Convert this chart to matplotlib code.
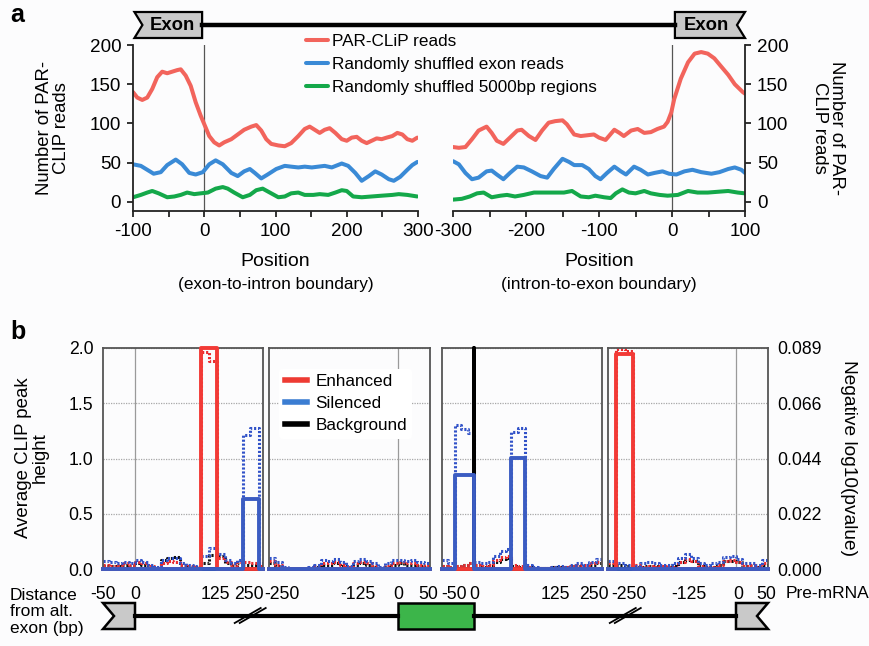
import matplotlib

matplotlib.use("Agg")
import matplotlib.pyplot as plt
from matplotlib.lines import Line2D
from matplotlib.patches import Polygon, Rectangle

plt.rcParams["font.family"] = ["Liberation Sans", "DejaVu Sans"]
plt.rcParams["axes.unicode_minus"] = False

W, H = 869, 646

# ---------------- panel a: PAR-CLIP read profiles ----------------
# exon-to-intron boundary (left)
ei_red_x = [-100, -94, -87, -80, -73, -66, -59, -52, -45, -38, -33, -26, -19, -12, -5, 1, 7, 14, 21, 28,
            38, 47, 56, 66, 73, 80, 87, 94, 104, 113, 122, 132, 141, 148, 155, 162, 169, 176, 184, 193,
            200, 207, 214, 221, 228, 235, 242, 249, 256, 264, 271, 278, 285, 292, 299]
ei_red = [140, 133, 130, 133, 144, 159, 166, 164, 166, 168, 169, 161, 148, 127, 110, 97, 84, 76, 72, 76,
          80, 86, 92, 96, 98, 91, 80, 74, 72, 71, 75, 84, 93, 96, 92, 88, 92, 94, 88, 80,
          78, 82, 83, 78, 75, 78, 81, 80, 82, 84, 88, 86, 80, 78, 82]
ei_blue_x = [-100, -89, -80, -71, -61, -52, -40, -31, -21, -12, -2, 7, 16, 26, 38, 47, 56, 64, 71, 80,
             89, 101, 113, 122, 132, 141, 151, 160, 169, 179, 193, 202, 212, 221, 231, 240, 249, 259,
             266, 275, 285, 292, 299]
ei_blue = [48, 46, 41, 36, 38, 47, 54, 48, 37, 35, 38, 48, 53, 48, 37, 33, 39, 42, 37, 30,
           35, 42, 46, 45, 44, 45, 44, 45, 46, 44, 49, 46, 37, 27, 33, 39, 35, 29, 27, 32, 41, 47, 51]
ei_green_x = [-100, -89, -80, -73, -64, -52, -42, -33, -24, -14, -5, 5, 16, 26, 33, 42, 54, 64, 73, 82,
              92, 104, 113, 122, 132, 141, 153, 162, 174, 184, 193, 200, 209, 221, 235, 249, 264, 273,
              285, 299]
ei_green = [6, 9, 12, 14, 11, 6, 7, 9, 12, 10, 11, 12, 17, 19, 17, 12, 6, 9, 15, 17,
            12, 6, 7, 11, 12, 9, 9, 10, 9, 12, 15, 14, 7, 6, 7, 8, 9, 10, 9, 7]

# intron-to-exon boundary (right)
ie_red_x = [-300, -292, -283, -274, -265, -254, -247, -240, -231, -222, -212, -206, -196, -187, -178,
            -169, -160, -150, -144, -134, -125, -116, -107, -100, -91, -79, -72, -66, -56, -47, -38,
            -29, -20, -11, -6, -1, 3, 12, 22, 31, 40, 49, 58, 67, 77, 86, 97, 100]
ie_red = [70, 69, 70, 80, 91, 96, 88, 78, 74, 82, 91, 92, 84, 79, 91, 101, 103, 104, 99, 86,
          84, 85, 86, 82, 79, 92, 88, 84, 91, 93, 88, 89, 93, 96, 102, 114, 131, 157, 178, 189,
          191, 189, 183, 173, 162, 150, 140, 138]
ie_blue_x = [-300, -292, -283, -274, -265, -254, -247, -240, -231, -222, -212, -203, -192, -180, -171,
             -162, -150, -141, -134, -123, -114, -105, -98, -89, -79, -70, -63, -52, -43, -33, -24,
             -13, -4, 6, 17, 28, 40, 54, 65, 77, 86, 95, 100]
ie_blue = [52, 48, 37, 29, 31, 39, 40, 35, 29, 37, 45, 44, 39, 33, 31, 42, 55, 51, 47, 47,
           42, 33, 29, 37, 45, 39, 35, 45, 41, 35, 37, 39, 36, 35, 39, 41, 38, 36, 38, 42, 44, 41, 37]
ie_green_x = [-300, -288, -277, -267, -258, -247, -235, -226, -215, -203, -189, -176, -162, -148, -137,
              -125, -114, -105, -93, -84, -77, -68, -59, -50, -38, -29, -17, -6, 8, 22, 35, 49, 63,
              77, 90, 100]
ie_green = [3, 4, 7, 11, 12, 6, 8, 9, 7, 9, 12, 12, 12, 12, 14, 7, 6, 8, 6, 5,
            11, 16, 12, 11, 14, 11, 9, 8, 9, 14, 12, 12, 13, 14, 12, 11]

a_labels = ["PAR-CLiP reads", "Randomly shuffled exon reads", "Randomly shuffled 5000bp regions"]
a_colors = ["#f2645c", "#3a8ad6", "#14a84a"]

# ---------------- panel b: CLIP peak height / p-value maps ----------------
b_labels = ["Enhanced", "Silenced", "Background"]

b1_x = [-50, -40, -30, -20, -10, 0, 10, 20, 30, 40, 50, 60, 70, 80, 90, 103, 115, 128, 140, 150, 160,
        169, 180, 194, 200]
b1_enh = [0.04, 0.03, 0.04, 0.05, 0.04, 0.06, 0.05, 0.03, 0.01, 0.05, 0.07, 0.06, 0.04, 0.03, 0.02,
          1.96, 1.88, 0.10, 0.06, 0.04, 0.06, 0.06, 0.05, 0.03, 0.03]
b1_sil = [0.07, 0.06, 0.05, 0.06, 0.05, 0.08, 0.06, 0.04, 0.02, 0.08, 0.10, 0.10, 0.05, 0.04, 0.03,
          0.12, 0.19, 0.14, 0.08, 0.05, 0.08, 1.21, 1.28, 0.05, 0.05]
b1_bg = [0.03, 0.03, 0.03, 0.04, 0.03, 0.05, 0.04, 0.03, 0.01, 0.08, 0.10, 0.11, 0.03, 0.02, 0.02,
         0.05, 0.13, 0.12, 0.05, 0.03, 0.05, 0.04, 0.04, 0.03, 0.03]
b1_p_x = [-50, 103, 128, 169, 194, 200]
b1_p_enh = [0, 0.0886, 0, 0, 0, 0]
b1_p_sil = [0, 0, 0, 0.0279, 0, 0]
b1_p_bg = [0, 0, 0, 0, 0, 0]

b2_x = [-200, -190, -180, -170, -160, -150, -140, -130, -120, -110, -100, -90, -80, -70, -60, -50,
        -40, -30, -20, -10, 0, 10, 20, 30, 40, 50]
b2_enh = [0.07, 0.04, 0.01, 0.0, 0.0, 0.0, 0.01, 0.03, 0.05, 0.05, 0.06, 0.04, 0.02, 0.05, 0.06, 0.05,
          0.03, 0.01, 0.03, 0.05, 0.06, 0.05, 0.05, 0.04, 0.03, 0.04]
b2_sil = [0.10, 0.06, 0.02, 0.0, 0.0, 0.0, 0.02, 0.04, 0.08, 0.07, 0.09, 0.06, 0.03, 0.07, 0.09, 0.07,
          0.05, 0.02, 0.05, 0.08, 0.08, 0.07, 0.08, 0.06, 0.05, 0.06]
b2_bg = [0.05, 0.03, 0.01, 0.0, 0.0, 0.0, 0.01, 0.02, 0.04, 0.04, 0.05, 0.03, 0.01, 0.04, 0.05, 0.04,
         0.02, 0.01, 0.02, 0.04, 0.05, 0.04, 0.04, 0.03, 0.02, 0.03]
b2_p_x = [-200, 50]
b2_p_enh = [0, 0]
b2_p_sil = [0, 0]
b2_p_bg = [0, 0]

b3_x = [-50, -40, -30, -20, -10, 0, 10, 20, 30, 40, 50, 58, 69, 80, 90, 100, 110, 120, 130, 140, 150,
        160, 170, 180, 190, 200]
b3_enh = [0.03, 0.02, 0.03, 0.04, 0.05, 0.04, 0.03, 0.04, 0.08, 0.11, 0.12, 0.04, 0.03, 0.02, 0.01,
          0.01, 0.01, 0.02, 0.02, 0.02, 0.03, 0.04, 0.04, 0.05, 0.06, 0.06]
b3_sil = [0.08, 0.05, 1.30, 1.27, 1.23, 0.06, 0.05, 0.06, 0.12, 0.16, 0.18, 1.24, 1.28, 0.04, 0.02,
          0.01, 0.01, 0.02, 0.03, 0.02, 0.04, 0.05, 0.04, 0.06, 0.09, 0.09]
b3_bg = [0.03, 0.02, 0.03, 0.04, 0.05, 0.04, 0.02, 0.03, 0.06, 0.09, 0.10, 0.03, 0.02, 0.02, 0.01,
         0.01, 0.01, 0.02, 0.02, 0.02, 0.03, 0.03, 0.03, 0.04, 0.05, 0.05]
b3_p_x = [-50, -30, 0, 0.6, 58, 80, 200]
b3_p_enh = [0, 0, 0, 0, 0, 0, 0]
b3_p_sil = [0, 0.0377, 0, 0, 0.0447, 0, 0]
b3_p_bg = [0, 0, 0.0886, 0, 0, 0, 0]

b4_x = [-200, -187, -174, -161, -150, -140, -130, -120, -110, -100, -90, -80, -70, -60, -50, -40,
        -30, -20, -10, 0, 10, 20, 30, 40, 50]
b4_enh = [0.05, 1.99, 1.97, 0.04, 0.02, 0.03, 0.02, 0.03, 0.02, 0.02, 0.06, 0.09, 0.07, 0.03, 0.02,
          0.02, 0.04, 0.07, 0.08, 0.06, 0.03, 0.04, 0.02, 0.05, 0.05]
b4_sil = [0.07, 0.05, 0.04, 0.03, 0.05, 0.06, 0.05, 0.04, 0.04, 0.05, 0.10, 0.14, 0.10, 0.05, 0.04,
          0.05, 0.06, 0.11, 0.12, 0.09, 0.05, 0.05, 0.04, 0.08, 0.08]
b4_bg = [0.04, 0.04, 0.03, 0.02, 0.02, 0.03, 0.03, 0.02, 0.02, 0.03, 0.06, 0.08, 0.07, 0.03, 0.02,
         0.02, 0.04, 0.07, 0.07, 0.06, 0.03, 0.03, 0.02, 0.04, 0.05]
b4_p_x = [-200, -187, -161, 50]
b4_p_enh = [0, 0.0860, 0, 0]
b4_p_sil = [0, 0, 0, 0]
b4_p_bg = [0, 0, 0, 0]

# tick label positions / texts under each panel
b_ticks = [[-50, 0, 125, 178], [-180, -62, 0, 47], [-31, 1, 127, 187], [-167, -73, 3, 47]]
b_ticklabels = [["-50", "0", "125", "250"], ["-250", "-125", "0", "50"],
                ["-50", "0", "125", "250"], ["-250", "-125", "0", "50"]]
b_xlims = [(-50, 200), (-200, 50), (-50, 200), (-200, 50)]
P_MAX = 0.0886

DOT_COL = {"Enhanced": "#ea2c30", "Silenced": "#3152c8", "Background": "#111111"}
SOLID_COL = {"Enhanced": "#f23a36", "Silenced": "#3b5cc2", "Background": "#000000"}
LEG_COL = {"Enhanced": "#ee3b33", "Silenced": "#3b7dd2", "Background": "#000000"}


def rect(x0, y0, x1, y1):
    return [x0 / W, 1 - y1 / H, (x1 - x0) / W, (y1 - y0) / H]


fig = plt.figure(figsize=(W / 100, H / 100), dpi=100, facecolor="#fcfcfd")


def to_fig(ax, x):
    disp = ax.transData.transform((x, 0))
    return fig.transFigure.inverted().transform(disp)[0]


def fy(ypix):
    return 1 - ypix / H


# ---------------- panel a ----------------
axL = fig.add_axes(rect(133, 45, 418, 211))
axR = fig.add_axes(rect(453, 45, 745, 211))

for ax, series, xlim in [
    (axL, [(ei_red_x, ei_red), (ei_blue_x, ei_blue), (ei_green_x, ei_green)], (-100, 300)),
    (axR, [(ie_red_x, ie_red), (ie_blue_x, ie_blue), (ie_green_x, ie_green)], (-300, 100)),
]:
    ax.set_facecolor("none")
    for (xs, ys), col, lab in zip(series, a_colors, a_labels):
        ax.plot(xs, ys, color=col, lw=2.9, solid_joinstyle="round", solid_capstyle="round", label=lab)
    ax.axvline(0, color="#555555", lw=0.9, zorder=0)
    ax.set_xlim(*xlim)
    ax.set_ylim(-11.5, 200)
    ax.set_yticks([0, 50, 100, 150, 200])
    ax.set_xticks(range(xlim[0], xlim[1] + 1, 100))
    ax.set_xticks(range(xlim[0], xlim[1] + 1, 50), minor=True)
    ax.spines["top"].set_visible(False)
    for s in ax.spines.values():
        s.set_linewidth(1.3)
        s.set_color("#222222")
    ax.tick_params(which="both", length=4.5, width=1.3, color="#222222", labelsize=13.6, pad=4)

axL.spines["right"].set_visible(False)
axR.spines["left"].set_visible(False)
axR.yaxis.tick_right()

fig.text(53 / W, fy(128), "Number of PAR-\nCLIP reads", rotation=90, ha="center", va="center",
         fontsize=13.3, linespacing=1.0)
fig.text(828 / W, fy(128), "Number of PAR-\nCLIP reads", rotation=270, ha="center", va="center",
         fontsize=13.3, linespacing=1.0)
for ax, sub in [(axL, "(exon-to-intron boundary)"), (axR, "(intron-to-exon boundary)")]:
    cx = (to_fig(ax, ax.get_xlim()[0]) + to_fig(ax, ax.get_xlim()[1])) / 2
    fig.text(cx, fy(262), "Position", ha="center", va="center", fontsize=14)
    fig.text(cx, fy(284), sub, ha="center", va="center", fontsize=12.4)

fig.legend(*axL.get_legend_handles_labels(), loc="upper left", bbox_to_anchor=(306 / W, fy(34)),
           frameon=False, fontsize=12.3, handlelength=1.3, handletextpad=0.22, labelspacing=0.46,
           borderpad=0, borderaxespad=0)

# gene model on top of panel a
a_box_y0, a_box_y1, a_line_y = fy(38), fy(12), fy(25)
notch = 8 / W
xl0, xl1 = to_fig(axL, -98), to_fig(axL, -3)
xr0, xr1 = to_fig(axR, 4), to_fig(axR, 100)
fig.add_artist(Line2D([xl1, xr0], [a_line_y, a_line_y], color="black", lw=3.2))
fig.add_artist(Polygon([(xl0, a_box_y1), (xl1, a_box_y1), (xl1, a_box_y0), (xl0, a_box_y0),
                        (xl0 + notch, a_line_y)], closed=True, fc="#c9c9c9", ec="black", lw=1.6))
fig.add_artist(Polygon([(xr0, a_box_y1), (xr1, a_box_y1), (xr1 - notch, a_line_y), (xr1, a_box_y0),
                        (xr0, a_box_y0)], closed=True, fc="#c9c9c9", ec="black", lw=1.6))
fig.text((xl0 + notch + xl1) / 2, a_line_y, "Exon", ha="center", va="center", fontsize=13.3,
         fontweight="bold")
fig.text((xr0 + xr1 - notch) / 2, a_line_y, "Exon", ha="center", va="center", fontsize=13.3,
         fontweight="bold")

# ---------------- panel b ----------------
b_rects = [rect(103, 348, 263, 569), rect(269, 348, 430, 569), rect(442, 348, 602, 569),
           rect(608, 348, 768, 569)]
b_data = [
    (b1_x, b1_enh, b1_sil, b1_bg, b1_p_x, b1_p_enh, b1_p_sil, b1_p_bg),
    (b2_x, b2_enh, b2_sil, b2_bg, b2_p_x, b2_p_enh, b2_p_sil, b2_p_bg),
    (b3_x, b3_enh, b3_sil, b3_bg, b3_p_x, b3_p_enh, b3_p_sil, b3_p_bg),
    (b4_x, b4_enh, b4_sil, b4_bg, b4_p_x, b4_p_enh, b4_p_sil, b4_p_bg),
]
b_axes = []
for i, (r, d) in enumerate(zip(b_rects, b_data)):
    xs, enh, sil, bg, pxs, penh, psil, pbg = d
    ax = fig.add_axes(r)
    ax.set_facecolor("none")
    for lab, ys in [("Background", bg), ("Enhanced", enh), ("Silenced", sil)]:
        ax.plot(xs, ys, drawstyle="steps-post", color=DOT_COL[lab], lw=2.2, ls=(0, (0.7, 0.6)))
    ax.set_xlim(*b_xlims[i])
    ax.set_ylim(0, 2.0)
    ax.set_yticks([0, 0.5, 1.0, 1.5, 2.0])
    ax.yaxis.grid(True, color="#a8a8a8", lw=0.9, ls=(0, (1, 1)))
    ax.set_axisbelow(True)
    ax.axvline(0, color="#9a9a9a", lw=0.9, zorder=0)
    ax.set_xticks(b_ticks[i])
    ax.set_xticklabels(b_ticklabels[i])
    ax.tick_params(axis="x", length=0, pad=12, labelsize=12.7)
    ax.tick_params(axis="y", length=0, pad=7, labelsize=12.7)
    if i > 0:
        ax.set_yticklabels([])
    for s in ax.spines.values():
        s.set_color("#555555")
        s.set_linewidth(1.3)

    tw = ax.twinx()
    tw.set_ylim(0, P_MAX)
    for lab, ys in [("Background", pbg), ("Enhanced", penh), ("Silenced", psil)]:
        tw.plot(pxs, ys, drawstyle="steps-post", color=SOLID_COL[lab], lw=2.8, clip_on=False)
    tw.set_xlim(*b_xlims[i])
    tw.tick_params(axis="y", length=0, pad=7, labelsize=12.7)
    if i == 3:
        tw.set_yticks([P_MAX * k / 4 for k in range(5)])
        tw.set_yticklabels([f"{P_MAX * k / 4:.3f}" for k in range(5)])
    else:
        tw.set_yticks([])
    for s in tw.spines.values():
        s.set_visible(False)
    b_axes.append(ax)

leg_handles = [Line2D([], [], color=LEG_COL[l], lw=4) for l in b_labels]
leg = b_axes[1].legend(leg_handles, b_labels, loc="upper left", bbox_to_anchor=(0.065, 0.905),
                       fontsize=12.3, handlelength=1.3, handletextpad=0.5, labelspacing=0.42,
                       frameon=True, facecolor="white", edgecolor="none", framealpha=1,
                       borderpad=0.3, borderaxespad=0)
leg.set_zorder(5)

fig.text(32 / W, fy(458), "Average CLIP peak\nheight", rotation=90, ha="center", va="center",
         fontsize=13.4, linespacing=1.0)
fig.text(848 / W, fy(458), "Negative log10(pvalue)", rotation=270, ha="center", va="center",
         fontsize=13.8)
fig.text(10 / W, fy(612), "Distance\nfrom alt.\nexon (bp)", ha="left", va="center", fontsize=12.5,
         linespacing=1.12)
fig.text(786 / W, fy(593), "Pre-mRNA", ha="left", va="center", fontsize=12.5)

# gene model under panel b
b_y0, b_y1, b_line = fy(629), fy(603), fy(616)
g0, g1 = to_fig(b_axes[0], -50), to_fig(b_axes[0], 0)
e0, e1 = to_fig(b_axes[1], 0), to_fig(b_axes[2], 0)
h0, h1 = to_fig(b_axes[3], 0), to_fig(b_axes[3], 50)
bnotch = 11 / W
fig.add_artist(Line2D([g1, e0], [b_line, b_line], color="black", lw=3))
fig.add_artist(Line2D([e1, h0], [b_line, b_line], color="black", lw=3))
fig.add_artist(Polygon([(g0, b_y1), (g1, b_y1), (g1, b_y0), (g0, b_y0), (g0 + bnotch, b_line)],
                       closed=True, fc="#c9c9c9", ec="black", lw=1.8))
fig.add_artist(Rectangle((e0, b_y0), e1 - e0, b_y1 - b_y0, fc="#3cb54a", ec="black", lw=1.8))
fig.add_artist(Polygon([(h0, b_y1), (h1, b_y1), (h1 - bnotch, b_line), (h1, b_y0), (h0, b_y0)],
                       closed=True, fc="#c9c9c9", ec="black", lw=1.8))
for ax, xb in [(b_axes[0], 180), (b_axes[3], -173)]:
    cx = to_fig(ax, xb)
    for off in (-2.5, 2.5):
        fig.add_artist(Line2D([cx + (off - 13) / W, cx + (off + 13) / W], [fy(623), fy(608)],
                              color="black", lw=1.3))

fig.text(10 / W, fy(15), "a", fontsize=18, fontweight="bold", ha="left", va="center")
fig.text(10 / W, fy(332), "b", fontsize=18, fontweight="bold", ha="left", va="center")

fig.savefig("out.png", dpi=100, facecolor=fig.get_facecolor())
